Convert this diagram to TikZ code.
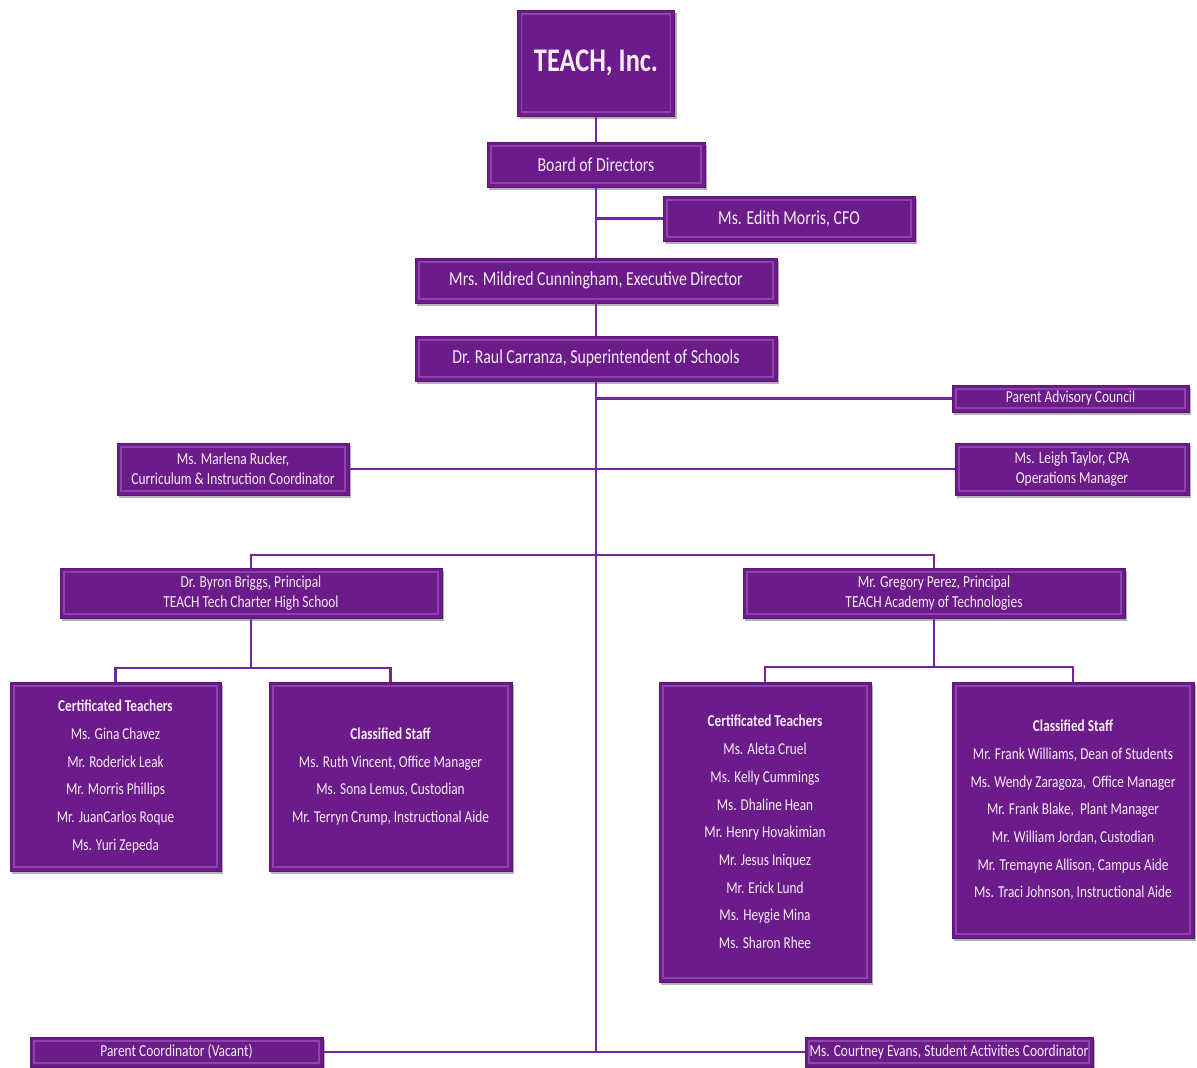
\documentclass[tikz,border=0pt]{standalone}
\usepackage{fontspec}
\setmainfont{Carlito}[FakeStretch=0.8]
\usetikzlibrary{shadows}
\definecolor{boxfill}{RGB}{108,28,138}
\definecolor{boxedge}{RGB}{95,20,120}
\definecolor{bevelc}{RGB}{200,140,230}
\definecolor{boxtext}{RGB}{248,235,248}
\definecolor{linec}{RGB}{112,40,160}
\tikzset{
  box/.style={rectangle, fill=boxfill, draw=boxedge, line width=0.6pt, text=boxtext,
    align=center, inner sep=0pt,
    drop shadow={shadow xshift=2pt, shadow yshift=-2.5pt, fill=black, opacity=0.3},
    path picture={\draw[bevelc, opacity=0.35, line width=1.5pt]
      ([shift={(4pt,4pt)}]path picture bounding box.south west) rectangle
      ([shift={(-4pt,-4pt)}]path picture bounding box.north east);}},
  sz/.style 2 args={minimum width=#1pt, minimum height=#2pt},
  bigf/.style={font=\fontsize{19.8}{22}\selectfont},
  medf/.style={font=\fontsize{16.8}{20}\selectfont},
  smallf/.style={font=\fontsize{16.8}{18}\selectfont},
  listf/.style={font=\fontsize{16.6}{27.7}\selectfont},
  conn/.style={draw=linec, line width=2.5pt}
}
\begin{document}
\begin{tikzpicture}[x=1pt,y=-1pt]
\useasboundingbox[fill=white] (0,0) rectangle (1197,1068);
% top chain
\node[box, sz={157}{106}, font=\fontsize{33}{36}\selectfont\bfseries] (teach) at (596,63) {TEACH, Inc.};
\node[box, sz={218}{45}, bigf] (board) at (596,164.5) {Board of Directors};
\node[box, sz={252}{45}, bigf] (cfo) at (789,218.5) {Ms. Edith Morris, CFO};
\node[box, sz={362}{45}, bigf] (exec) at (596,280.5) {Mrs. Mildred Cunningham, Executive Director};
\node[box, sz={362}{45}, bigf] (super) at (596,358.5) {Dr. Raul Carranza, Superintendent of Schools};
\node[box, sz={237}{27}, smallf] (pac) at (1070.5,398.5) {Parent Advisory Council};
\node[box, sz={232}{52}, medf] (rucker) at (233,469) {Ms. Marlena Rucker,\\Curriculum \& Instruction Coordinator};
\node[box, sz={234}{52}, medf] (taylor) at (1072,469) {Ms. Leigh Taylor, CPA\\Operations Manager};
% principals
\node[box, sz={382}{50}, medf] (briggs) at (251,593) {Dr. Byron Briggs, Principal\\TEACH Tech Charter High School};
\node[box, sz={382}{50}, medf] (perez) at (934,593) {Mr. Gregory Perez, Principal\\TEACH Academy of Technologies};
% staff boxes
\node[box, sz={211}{189}, listf] (bcert) at (115.5,776.5) {\textbf{Certificated Teachers}\\Ms. Gina Chavez\\Mr. Roderick Leak\\Mr. Morris Phillips\\Mr. JuanCarlos Roque\\Ms. Yuri Zepeda};
\node[box, sz={243}{189}, listf] (bclass) at (390.5,776.5) {\textbf{Classified Staff}\\Ms. Ruth Vincent, Office Manager\\Ms. Sona Lemus, Custodian\\Mr. Terryn Crump, Instructional Aide};
\node[box, sz={212}{300}, listf] (pcert) at (765,832) {\textbf{Certificated Teachers}\\Ms. Aleta Cruel\\Ms. Kelly Cummings\\Ms. Dhaline Hean\\Mr. Henry Hovakimian\\Mr. Jesus Iniquez\\Mr. Erick Lund\\Ms. Heygie Mina\\Ms. Sharon Rhee};
\node[box, sz={242}{256}, listf] (pclass) at (1073,810) {\textbf{Classified Staff}\\Mr. Frank Williams, Dean of Students\\Ms. Wendy Zaragoza,\ \ Office Manager\\Mr. Frank Blake,\ \ Plant Manager\\Mr. William Jordan, Custodian\\Mr. Tremayne Allison, Campus Aide\\Ms. Traci Johnson, Instructional Aide};
% bottom
\node[box, sz={293}{30}, smallf] (pc) at (176.5,1052) {Parent Coordinator (Vacant)};
\node[box, sz={288}{30}, smallf] (ce) at (949,1052) {Ms. Courtney Evans, Student Activities Coordinator};
% coordinates
\coordinate (tcfo) at (596,218.5);
\coordinate (tpac) at (596,398.5);
\coordinate (tpr) at (596,555);
\coordinate (bbus) at (251,668);
\coordinate (pbus) at (934,667);
\coordinate (bot) at (596,1052);
% connectors
\draw[conn] (teach.south) -- (board.north);
\draw[conn] (board.south) -- (exec.north);
\draw[conn] (tcfo) -- (cfo.west);
\draw[conn] (exec.south) -- (super.north);
\draw[conn] (super.south) -- (bot);
\draw[conn] (tpac) -- (pac.west);
\draw[conn] (rucker.east) -- (taylor.west);
\draw[conn] (briggs.north) |- (tpr) -| (perez.north);
\draw[conn] (briggs.south) -- (bbus);
\draw[conn] (bcert.north) |- (bbus) -| (bclass.north);
\draw[conn] (perez.south) -- (pbus);
\draw[conn] (pcert.north) |- (pbus) -| (pclass.north);
\draw[conn] (pc.east) -- (ce.west);
\end{tikzpicture}
\end{document}
